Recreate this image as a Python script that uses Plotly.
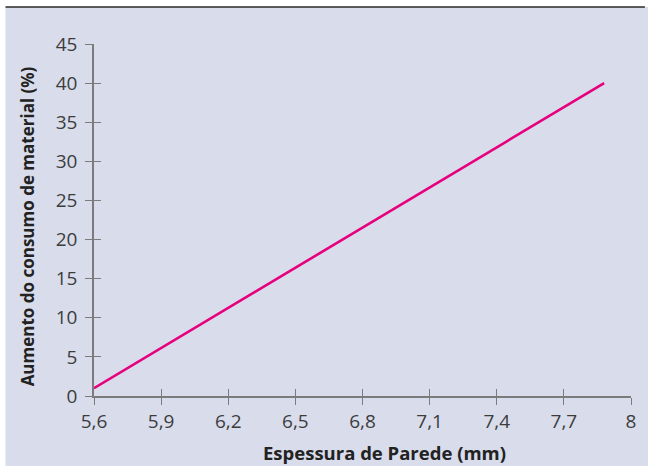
import plotly.graph_objects as go

espessura = [5.6, 7.88]
aumento = [1.0, 40.0]
x_ticks = [5.6, 5.9, 6.2, 6.5, 6.8, 7.1, 7.4, 7.7, 8.0]
x_labels = ["5,6", "5,9", "6,2", "6,5", "6,8", "7,1", "7,4", "7,7", "8"]
y_ticks = [0, 5, 10, 15, 20, 25, 30, 35, 40, 45]

W, H = 648, 466
L, R, T, B = 94, 14, 44, 70
pw, ph = W - L - R, H - T - B

def px(xp):
    return (xp - L) / pw

def py(yp):
    return (H - B - yp) / ph

BG = "#d9dceb"
AX = "#7b7b7b"
FONT = "Open Sans"

fig = go.Figure()
fig.add_trace(go.Scatter(x=espessura, y=aumento, mode="lines",
                         line=dict(color="#e6007e", width=2.6), showlegend=False))
fig.add_trace(go.Scatter(x=espessura, y=aumento, mode="lines", xaxis="x2", yaxis="y2",
                         line=dict(color="rgba(0,0,0,0)"), showlegend=False, hoverinfo="skip"))

axis_common = dict(showgrid=False, zeroline=False, ticklen=7, tickwidth=1.3, tickcolor=AX)
fig.update_layout(
    width=W, height=H,
    margin=dict(l=L, r=R, t=T, b=B),
    paper_bgcolor=BG, plot_bgcolor=BG,
    font=dict(family=FONT, size=19, color="#3c3c3c"),
    xaxis=dict(range=[5.6, 8.0], tickvals=x_ticks, ticktext=x_labels, ticks="outside",
               showline=True, linecolor=AX, linewidth=1.5, **axis_common),
    yaxis=dict(range=[0, 45], tickvals=y_ticks, ticks="outside", ticklabelstandoff=4,
               showline=True, linecolor=AX, linewidth=1.5, **axis_common),
    xaxis2=dict(range=[5.6, 8.0], tickvals=x_ticks, ticks="inside", overlaying="x",
                showticklabels=False, showline=False, **axis_common),
    yaxis2=dict(range=[0, 45], tickvals=y_ticks, ticks="inside", overlaying="y",
                showticklabels=False, showline=False, **axis_common),
    shapes=[
        dict(type="rect", xref="paper", yref="paper", x0=px(-5), x1=px(W + 5), y0=py(7), y1=py(-5),
             fillcolor="white", line=dict(width=0), layer="below"),
        dict(type="rect", xref="paper", yref="paper", x0=px(-5), x1=px(5), y0=py(H + 5), y1=py(-5),
             fillcolor="white", line=dict(width=0), layer="below"),
        dict(type="line", xref="paper", yref="paper", x0=px(5), x1=px(W), y0=py(7), y1=py(7),
             line=dict(color="#2a2a2a", width=1.5)),
    ],
    annotations=[
        dict(text="<b>Espessura de Parede (mm)</b>", xref="paper", yref="paper",
             x=px(386), y=py(452), xanchor="center", yanchor="middle",
             showarrow=False, font=dict(size=18.5, color="#222222")),
        dict(text="<b>Aumento do consumo de material (%)</b>", xref="paper", yref="paper",
             x=px(27), y=py(226), xanchor="center", yanchor="middle",
             showarrow=False, textangle=-90, font=dict(size=17, color="#222222")),
    ],
)
fig.write_html("out.html", post_script="document.body.style.margin='0';",
               config={"displayModeBar": False})
